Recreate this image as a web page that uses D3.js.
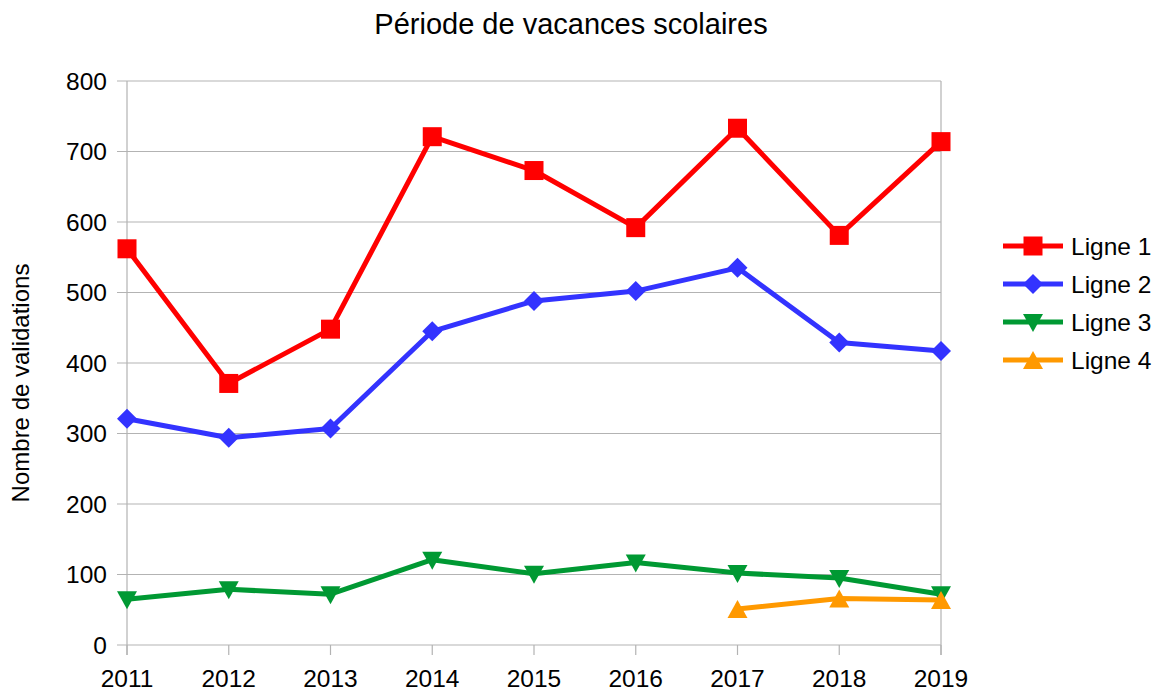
<!DOCTYPE html>
<html>
<head>
<meta charset="utf-8">
<script src="https://cdn.jsdelivr.net/npm/d3@7"></script>
<style>
  body { margin: 0; background: #fff; }
  svg { font-family: "Liberation Sans", Arial, sans-serif; }
</style>
</head>
<body>
<svg id="chart" width="1160" height="691"></svg>
<script>
const years = [2011, 2012, 2013, 2014, 2015, 2016, 2017, 2018, 2019];
const ligne1 = [562, 371, 448, 721, 673, 592, 733, 581, 714];
const ligne2 = [321, 294, 307, 445, 488, 502, 535, 429, 417];
const ligne3 = [65, 79, 72, 121, 101, 117, 102, 95, 72];
const ligne4 = [null, null, null, null, null, null, 51, 66, 64];
const yTicks = [0, 100, 200, 300, 400, 500, 600, 700, 800];

const series = [
  { name: 'Ligne 1', values: ligne1, color: '#ff0000', symbol: 'square' },
  { name: 'Ligne 2', values: ligne2, color: '#3333ff', symbol: 'diamond' },
  { name: 'Ligne 3', values: ligne3, color: '#009933', symbol: 'down' },
  { name: 'Ligne 4', values: ligne4, color: '#ff9900', symbol: 'up' }
];

const svg = d3.select('#chart');
const margin = { top: 81, left: 127, right: 219, bottom: 46 };
const width = 1160, height = 691;

const x = d3.scalePoint().domain(years).range([margin.left, width - margin.right]);
const y = d3.scaleLinear().domain([0, 800]).range([height - margin.bottom, margin.top]);

// gridlines
svg.append('g').selectAll('line').data(yTicks).enter().append('line')
  .attr('x1', margin.left - 10).attr('x2', width - margin.right)
  .attr('y1', d => y(d)).attr('y2', d => y(d))
  .attr('stroke', '#b3b3b3').attr('stroke-width', 1.2);

// left axis line and right border
svg.append('line').attr('x1', margin.left).attr('x2', margin.left)
  .attr('y1', y(800)).attr('y2', y(0) + 10)
  .attr('stroke', '#b3b3b3').attr('stroke-width', 1.2);
svg.append('line').attr('x1', width - margin.right).attr('x2', width - margin.right)
  .attr('y1', y(800)).attr('y2', y(0) + 10)
  .attr('stroke', '#b3b3b3').attr('stroke-width', 1.2);

// x tick marks
svg.append('g').selectAll('line').data(years).enter().append('line')
  .attr('x1', d => x(d)).attr('x2', d => x(d))
  .attr('y1', y(0)).attr('y2', y(0) + 10)
  .attr('stroke', '#b3b3b3').attr('stroke-width', 1.2);

// y labels
svg.append('g').selectAll('text').data(yTicks).enter().append('text')
  .attr('x', margin.left - 20).attr('y', d => y(d) + 8.5)
  .attr('text-anchor', 'end').attr('font-size', 24.5).attr('fill', '#000')
  .text(d => d);

// x labels
svg.append('g').selectAll('text').data(years).enter().append('text')
  .attr('x', d => x(d)).attr('y', y(0) + 42)
  .attr('text-anchor', 'middle').attr('font-size', 24.5).attr('fill', '#000')
  .text(d => d);

// title
svg.append('text').attr('x', 571).attr('y', 34)
  .attr('text-anchor', 'middle').attr('font-size', 29)
  .text('Période de vacances scolaires');

// y-axis title
svg.append('text')
  .attr('transform', 'translate(29,' + 383 + ') rotate(-90)')
  .attr('text-anchor', 'middle').attr('font-size', 24)
  .text('Nombre de validations');

let drawMarker = (g, symbol, cx, cy, color) => {
  if (symbol === 'square') {
    g.append('rect').attr('x', cx - 9.5).attr('y', cy - 9.5)
      .attr('width', 19).attr('height', 19).attr('fill', color);
  } else if (symbol === 'diamond') {
    g.append('path').attr('d', `M${cx},${cy - 10}L${cx + 10},${cy}L${cx},${cy + 10}L${cx - 10},${cy}Z`)
      .attr('fill', color);
  } else if (symbol === 'down') {
    g.append('path').attr('d', `M${cx - 10},${cy - 8}L${cx + 10},${cy - 8}L${cx},${cy + 10}Z`)
      .attr('fill', color);
  } else {
    g.append('path').attr('d', `M${cx - 10},${cy + 9}L${cx + 10},${cy + 9}L${cx},${cy - 9}Z`)
      .attr('fill', color);
  }
};

const line = d3.line()
  .defined(d => d.v !== null)
  .x(d => x(d.year)).y(d => y(d.v));

series.forEach(s => {
  const pts = years.map((yr, i) => ({ year: yr, v: s.values[i] }));
  const g = svg.append('g');
  g.append('path').datum(pts)
    .attr('d', line)
    .attr('fill', 'none').attr('stroke', s.color)
    .attr('stroke-width', 5).attr('stroke-linejoin', 'round');
  pts.filter(p => p.v !== null).forEach(p => drawMarker(g, s.symbol, x(p.year), y(p.v), s.color));
});

// legend
const legend = svg.append('g');
series.forEach((s, i) => {
  const ly = 246 + i * 38;
  legend.append('line').attr('x1', 1003).attr('x2', 1063)
    .attr('y1', ly).attr('y2', ly)
    .attr('stroke', s.color).attr('stroke-width', 5);
  drawMarker(legend, s.symbol, 1033, ly, s.color);
  legend.append('text').attr('x', 1071).attr('y', ly + 9)
    .attr('font-size', 24.5).text(s.name);
});
</script>
</body>
</html>
